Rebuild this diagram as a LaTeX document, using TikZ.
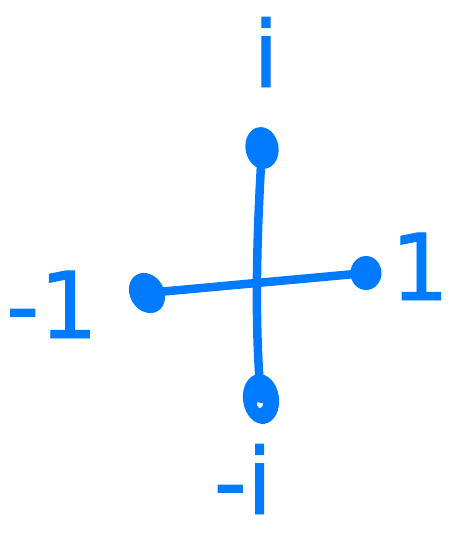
\documentclass[tikz,border=0pt]{standalone}
\usepackage{fontspec}
\setmainfont{DejaVu Sans}[FakeBold=1]
\usetikzlibrary{shapes.geometric}
\definecolor{pen}{RGB}{0,122,255}
\begin{document}
\begin{tikzpicture}[x=1pt,y=-1pt,
  dotnode/.style={ellipse,fill=pen,inner sep=0pt},
  axis/.style={draw=pen,line width=8.5pt,line cap=round},
  lbl/.style={text=pen,font=\fontsize{92}{92}\selectfont,inner sep=0pt,anchor=base}]
\useasboundingbox (0,0) rectangle (461,546);
\node[dotnode,minimum width=33pt,minimum height=42pt,rotate=10] (top) at (262,148) {};
\node[dotnode,minimum width=36pt,minimum height=50pt,rotate=8] (bot) at (261,399) {};
\node[dotnode,minimum width=34pt,minimum height=42pt,rotate=30] (left) at (147,293) {};
\node[dotnode,minimum width=31pt,minimum height=34pt] (right) at (366,273) {};
\fill[white] (260,404) ellipse (3pt and 4pt);
\draw[axis] (top.center) .. controls (257,230) and (254,320) .. (bot.center);
\draw[axis] (left.center) -- (right.center);
\node[lbl] (li) at (266,87) {i};
\node[lbl] (l1) at (420,300) {1};
\node[lbl] (lm1) at (52,338) {-1};
\node[lbl] (lmi) at (243,514) {-i};
\end{tikzpicture}
\end{document}
